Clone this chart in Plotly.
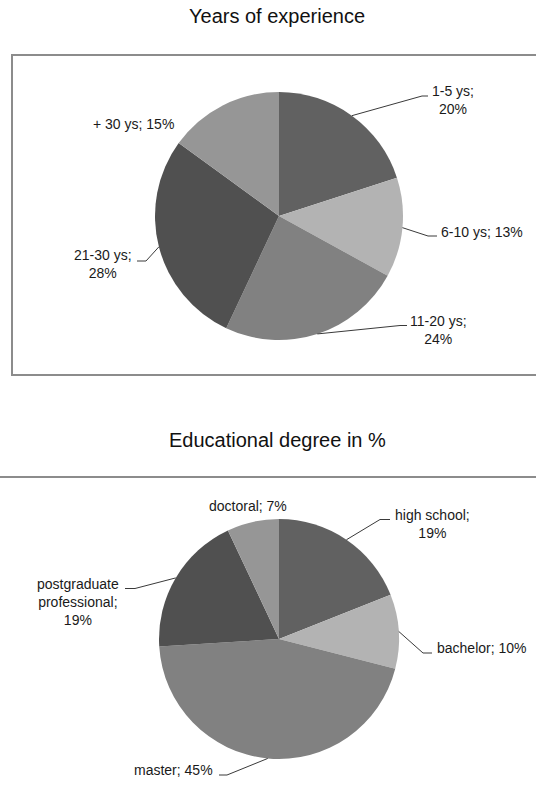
import math
import plotly.graph_objects as go

W, H = 536, 787

# ---------------- data ----------------
exp_title = "Years of experience"
exp_labels = ["1-5 ys", "6-10 ys", "11-20 ys", "21-30 ys", "+ 30 ys"]
exp_values = [20, 13, 24, 28, 15]

edu_title = "Educational degree in %"
edu_labels = ["high school", "bachelor", "master", "postgraduate professional", "doctoral"]
edu_values = [19, 10, 45, 19, 7]

# ---------------- styles / layout ----------------
slice_colors = ["#616161", "#b3b3b3", "#818181", "#505050", "#969696"]
FONT = "Liberation Sans, Arial, sans-serif"
TEXT_COLOR = "#1a1a1a"
LEADER_COLOR = "#3a3a3a"
BOX_COLOR = "#8c8c8c"

# pie placement in px (center x, center y, radius)
pie1 = dict(cx=279, cy=216, r=124)
pie2 = dict(cx=279, cy=639, r=120)

# label placement per slice: text position, anchor, wrap, leader elbow/end (px)
exp_place = [
    dict(tx=453, ty=100, xa="center", wrap="value", elbow=(422, 96), end=(428, 96)),
    dict(tx=439, ty=232, xa="left", wrap=None, elbow=(428, 236), end=(437, 236)),
    dict(tx=438, ty=329.5, xa="center", wrap="value", elbow=(400, 325.5), end=(407, 325.5)),
    dict(tx=103, ty=263.7, xa="center", wrap="value", elbow=(146, 261), end=(137, 261)),
    dict(tx=133, ty=124, xa="center", wrap=None, elbow=None, end=None),
]
edu_place = [
    dict(tx=432.5, ty=524, xa="center", wrap="value", elbow=(380, 519.5), end=(390, 519.5)),
    dict(tx=435, ty=648, xa="left", wrap=None, elbow=(423, 653), end=(432, 653)),
    dict(tx=215, ty=770, xa="right", wrap=None, elbow=(227, 775), end=(219, 775)),
    dict(tx=78, ty=602, xa="center", wrap="all", elbow=(135, 588.5), end=(125, 588.5)),
    dict(tx=248, ty=505.5, xa="center", wrap=None, elbow=None, end=None),
]


def px(x):
    return x / W


def py(y):
    return 1 - y / H


def domain(p):
    return dict(x=[px(p["cx"] - p["r"]), px(p["cx"] + p["r"])],
                y=[py(p["cy"] + p["r"]), py(p["cy"] - p["r"])])


def label_text(label, value, wrap):
    if wrap == "all":
        return label.replace(" ", "<br>") + ";<br>" + f"{value}%"
    if wrap == "value":
        return f"{label};<br>{value}%"
    return f"{label}; {value}%"


fig = go.Figure()
annotations = []
shapes = []


def add_pie(labels, values, p, place):
    fig.add_trace(go.Pie(
        labels=labels, values=values, sort=False, direction="clockwise",
        rotation=0, textinfo="none", hoverinfo="label+percent",
        marker=dict(colors=slice_colors, line=dict(width=0)),
        showlegend=False, domain=domain(p),
    ))
    total = sum(values)
    cum = 0
    for lab, v, pl in zip(labels, values, place):
        mid = (cum + v / 2) / total * 2 * math.pi
        cum += v
        ex = p["cx"] + p["r"] * math.sin(mid)
        ey = p["cy"] - p["r"] * math.cos(mid)
        if pl["elbow"] is not None:
            bx, by = pl["elbow"]
            nx, ny = pl["end"]
            path = (f"M {px(ex)} {py(ey)} L {px(bx)} {py(by)} L {px(nx)} {py(ny)}")
            shapes.append(dict(type="path", xref="paper", yref="paper", path=path,
                               line=dict(color=LEADER_COLOR, width=1)))
        annotations.append(dict(
            text=label_text(lab, v, pl["wrap"]), xref="paper", yref="paper",
            x=px(pl["tx"]), y=py(pl["ty"]), xanchor=pl["xa"], yanchor="middle",
            align="center", showarrow=False,
            font=dict(family=FONT, size=14, color=TEXT_COLOR),
        ))


add_pie(exp_labels, exp_values, pie1, exp_place)
add_pie(edu_labels, edu_values, pie2, edu_place)

# titles
for title, ty in [(exp_title, 16.5), (edu_title, 440)]:
    annotations.append(dict(text=title, xref="paper", yref="paper", x=px(277), y=py(ty),
                            xanchor="center", yanchor="middle", showarrow=False,
                            font=dict(family=FONT, size=20, color="#111111")))

# chart-area frames
shapes.append(dict(type="rect", xref="paper", yref="paper", x0=px(12), x1=px(545),
                   y0=py(375), y1=py(55), line=dict(color=BOX_COLOR, width=2)))
shapes.append(dict(type="rect", xref="paper", yref="paper", x0=px(-10), x1=px(545),
                   y0=py(800), y1=py(477), line=dict(color=BOX_COLOR, width=2)))

fig.update_layout(
    width=W, height=H, margin=dict(l=0, r=0, t=0, b=0),
    paper_bgcolor="white", plot_bgcolor="white",
    annotations=annotations, shapes=shapes,
)

fig.write_html("out.html")
